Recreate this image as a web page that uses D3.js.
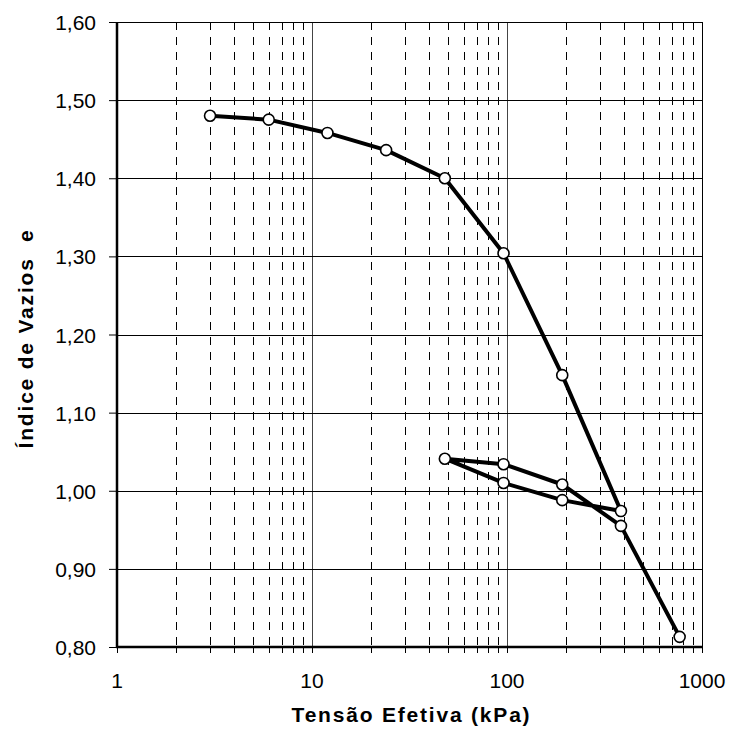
<!DOCTYPE html>
<html>
<head>
<meta charset="utf-8">
<script src="https://cdn.jsdelivr.net/npm/d3@7"></script>
<style>
  html, body { margin: 0; padding: 0; background: #fff; }
  text { font-family: "Liberation Sans", Arial, sans-serif; fill: #000; }
</style>
</head>
<body>
<svg id="chart" width="731" height="731"></svg>
<script>
// Data: effective stress (kPa) and void ratio e, in test order
const stress = [3, 6, 12, 24, 48, 96, 192, 384, 192, 96, 48, 96, 192, 384, 768];
const voidRatio = [1.480, 1.475, 1.458, 1.436, 1.400, 1.304, 1.148, 0.974, 0.988, 1.010, 1.041, 1.034, 1.008, 0.955, 0.813];
const yTicks = [0.80, 0.90, 1.00, 1.10, 1.20, 1.30, 1.40, 1.50, 1.60];
const xTicks = [1, 10, 100, 1000];
const xLabel = "Tensão Efetiva (kPa)";
const yLabel = "Índice de Vazios  e";

const svg = d3.select("#chart");
const m = { left: 117, right: 702, top: 22, bottom: 647 };

const x = d3.scaleLog().domain([1, 1000]).range([m.left, m.right]);
const y = d3.scaleLinear().domain([0.8, 1.6]).range([m.bottom, m.top]);

// minor positions
const minor = [];
for (let d = 1; d < 1000; d *= 10) for (let k = 2; k <= 9; k++) minor.push(d * k);

const g = svg.append("g");

// minor dashed vertical grid
g.selectAll("line.minor").data(minor).join("line")
  .attr("x1", d => Math.round(x(d)) + 0.5).attr("x2", d => Math.round(x(d)) + 0.5)
  .attr("y1", m.top).attr("y2", m.bottom)
  .attr("stroke", "#000").attr("stroke-width", 1)
  .attr("stroke-dasharray", "8,7");

// major vertical grid (10, 100)
g.selectAll("line.major").data([10, 100]).join("line")
  .attr("x1", d => Math.round(x(d)) + 0.5).attr("x2", d => Math.round(x(d)) + 0.5)
  .attr("y1", m.top).attr("y2", m.bottom)
  .attr("stroke", "#444").attr("stroke-width", 1);

// horizontal grid
g.selectAll("line.h").data(yTicks).join("line")
  .attr("x1", m.left).attr("x2", m.right)
  .attr("y1", d => Math.round(y(d)) + 0.5).attr("y2", d => Math.round(y(d)) + 0.5)
  .attr("stroke", "#000").attr("stroke-width", 1);

// right border
g.append("line")
  .attr("x1", m.right + 0.5).attr("x2", m.right + 0.5)
  .attr("y1", m.top).attr("y2", m.bottom)
  .attr("stroke", "#000").attr("stroke-width", 1);

// Y axis
const yAxis = d3.axisLeft(y).tickValues(yTicks).tickSize(8).tickPadding(13)
  .tickFormat(d => d3.format(".2f")(d).replace(".", ","));
const ya = svg.append("g").attr("transform", `translate(${m.left},0)`).call(yAxis);
ya.select(".domain").attr("stroke-width", 2.5).attr("d", `M0,${m.top}V${m.bottom + 1}`);
ya.selectAll(".tick line").attr("stroke-width", 1);
ya.selectAll(".tick text").style("font-size", "21px").attr("dy", "0.36em");

// X axis: minor + major ticks
const xa = svg.append("g").attr("transform", `translate(0,${m.bottom})`);
xa.selectAll("line.t").data(minor.concat(xTicks)).join("line")
  .attr("x1", d => Math.round(x(d)) + 0.5).attr("x2", d => Math.round(x(d)) + 0.5)
  .attr("y1", 0).attr("y2", 6)
  .attr("stroke", "#000").attr("stroke-width", 1);
xa.append("line").attr("x1", m.left - 1).attr("x2", m.right + 1)
  .attr("y1", 0).attr("y2", 0).attr("stroke", "#000").attr("stroke-width", 2.5);
xa.selectAll("text.tl").data(xTicks).join("text")
  .attr("x", d => x(d)).attr("y", 41)
  .attr("text-anchor", "middle").style("font-size", "21px")
  .text(d => d);

// axis titles
svg.append("text")
  .attr("x", (m.left + m.right) / 2 + 2).attr("y", 722)
  .attr("text-anchor", "middle")
  .style("font-size", "21px").style("font-weight", "bold").style("letter-spacing", "1.8px")
  .text(xLabel);

svg.append("text")
  .attr("transform", `translate(33,${(m.top + m.bottom) / 2 + 4}) rotate(-90)`)
  .attr("text-anchor", "middle")
  .style("font-size", "21px").style("font-weight", "bold").style("letter-spacing", "1.8px")
  .style("white-space", "pre")
  .text(yLabel);

// data line
const pts = stress.map((s, i) => [s, voidRatio[i]]);
svg.append("path")
  .datum(pts)
  .attr("fill", "none").attr("stroke", "#000").attr("stroke-width", 4)
  .attr("stroke-linejoin", "round")
  .attr("d", d3.line().x(d => x(d[0])).y(d => y(d[1])));

svg.selectAll("circle.pt").data(pts).join("circle")
  .attr("cx", d => x(d[0])).attr("cy", d => y(d[1])).attr("r", 5.5)
  .attr("fill", "#fff").attr("stroke", "#000").attr("stroke-width", 1.6);
</script>
</body>
</html>
